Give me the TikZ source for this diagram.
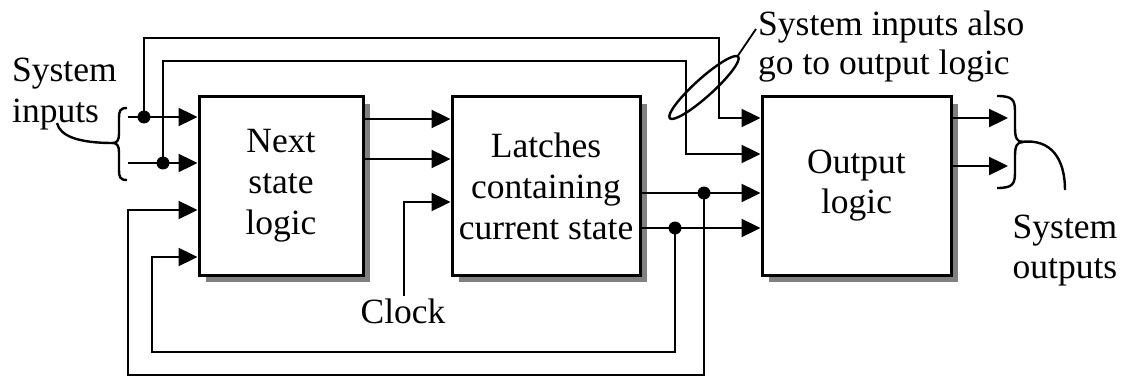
\documentclass[tikz,border=0pt]{standalone}
\usepackage{fontspec}
\setmainfont{Liberation Serif}
\usetikzlibrary{arrows.meta,shadows}
\begin{document}
\begin{tikzpicture}[x=1pt,y=-1pt,
  wire/.style={line width=2.4pt},
  arr/.style={line width=2.4pt,-{Triangle[length=19pt,width=18pt]}},
  blk/.style={draw,line width=3pt,fill=white,inner sep=0pt,align=center,
    font=\fontsize{35.5}{41}\selectfont,
    drop shadow={shadow xshift=7pt,shadow yshift=-7pt,fill=black!50,opacity=1}},
  lbl/.style={inner sep=0pt,font=\fontsize{35.5}{41}\selectfont},
  dot/.style={fill,circle,inner sep=0pt,minimum size=13pt}]
\useasboundingbox (0,0) rectangle (1122,377);
% blocks
\node[blk,minimum width=164pt,minimum height=178pt] (nsl) at (281,186) {Next\\state\\logic};
\node[blk,minimum width=188pt,minimum height=178pt] (lat) at (546,186) {Latches\\containing\\current state};
\node[blk,minimum width=189pt,minimum height=178pt] (out) at (856.5,186) {Output\\[-1pt]logic};
% input points
\coordinate (i1) at (128,117);
\coordinate (i2) at (128,163);
\coordinate (j1) at (144,117);
\coordinate (j2) at (163,163);
\coordinate (t1) at (719,118);
\coordinate (t2) at (686,154);
% system inputs
\draw[arr] (i1) -- (nsl.west |- i1);
\draw[arr] (i2) -- (nsl.west |- i2);
\draw[arr] (j1) |- (144,38) -| (t1) -- (out.west |- t1);
\draw[arr] (j2) |- (163,61) -| (t2) -- (out.west |- t2);
\node[dot] (d1) at (j1) {};
\node[dot] (d2) at (j2) {};
% next state to latches
\coordinate (n1) at (363,119);
\coordinate (n2) at (363,159);
\draw[arr] (nsl.east |- n1) -- (lat.west |- n1);
\draw[arr] (nsl.east |- n2) -- (lat.west |- n2);
% clock
\node[lbl,anchor=base] (clk) at (403,323) {Clock};
\coordinate (c0) at (404,296);
\coordinate (c1) at (404,202);
\draw[arr] (c0) -- (c1) -- (lat.west |- c1);
% latch outputs
\coordinate (l1) at (640,193);
\coordinate (l2) at (640,228);
\coordinate (k1) at (704,193);
\coordinate (k2) at (675,228);
\draw[arr] (lat.east |- l1) -- (out.west |- l1);
\draw[arr] (lat.east |- l2) -- (out.west |- l2);
\coordinate (f1) at (128,210);
\coordinate (f2) at (152,257);
\draw[arr] (k1) -- (704,375) -| (f1) -- (nsl.west |- f1);
\draw[arr] (k2) -- (675,352) -| (f2) -- (nsl.west |- f2);
\node[dot] (d3) at (k1) {};
\node[dot] (d4) at (k2) {};
% outputs
\coordinate (o1) at (1008,118);
\coordinate (o2) at (1008,166);
\draw[arr] (out.east |- o1) -- (o1);
\draw[arr] (out.east |- o2) -- (o2);
% left brace
\draw[wire] (127,108) .. controls (120,108) and (119,111) .. (119,118) -- (119,134)
  .. controls (119,140) and (117,143) .. (113,143)
  .. controls (117,143) and (119,146) .. (119,152) -- (119,170)
  .. controls (119,177) and (120,180) .. (127,180);
\draw[wire] (113,143) .. controls (78,143) and (60,136) .. (57,123);
\node[lbl,anchor=base west] (si1) at (12,82) {System};
\node[lbl,anchor=base west] (si2) at (12,123) {inputs};
% right brace
\draw[wire] (997,96) .. controls (1013,96) and (1015,100) .. (1015,112) -- (1015,128)
  .. controls (1015,138) and (1017,142) .. (1023,142)
  .. controls (1017,142) and (1015,146) .. (1015,156) -- (1015,172)
  .. controls (1015,184) and (1013,188) .. (997,188);
\draw[wire] (1021,142) .. controls (1052,138) and (1065,160) .. (1065,190);
\node[lbl,anchor=base] (so1) at (1065,238) {System};
\node[lbl,anchor=base] (so2) at (1065,278) {outputs};
% ellipse and note
\draw[wire,rotate around={42:(704,87.5)}] (704,87.5) ellipse [x radius=46, y radius=9];
\node[lbl,anchor=base west] (n1t) at (758,36) {System inputs also};
\node[lbl,anchor=base west] (n2t) at (758,75) {go to output logic};
\coordinate (e1) at (737,57);
\coordinate (e2) at (756,29);
\draw[line width=1.8pt] (e1) -- (e2);
\end{tikzpicture}
\end{document}
